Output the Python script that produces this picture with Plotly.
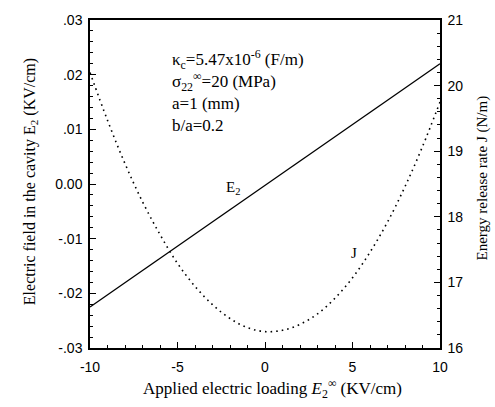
import plotly.graph_objects as go

# Data
x_E = [-10, 10]
E2 = [-0.0225, 0.0220]

x_J = [-10, -9, -8, -7, -6, -5, -4, -3, -2, -1, 0, 1, 2, 3, 4, 5, 6, 7, 8, 9, 10]
J = [20.20, 19.47, 18.81, 18.23, 17.73, 17.29, 16.94, 16.66, 16.45, 16.31, 16.25,
     16.27, 16.36, 16.52, 16.76, 17.07, 17.46, 17.92, 18.46, 19.07, 19.75]

x_ticks = [-10, -5, 0, 5, 10]
x_tick_text = ["-10", "-5", "0", "5", "10"]
y_ticks = [0.03, 0.02, 0.01, 0.0, -0.01, -0.02, -0.03]
y_tick_text = [".03", ".02", ".01", "0.00", "-.01", "-.02", "-.03"]
y2_ticks = [16, 17, 18, 19, 20, 21]

serif = "Liberation Serif"
sans = "Liberation Sans"

fig = go.Figure()
fig.add_trace(go.Scatter(x=x_E, y=E2, mode="lines",
                         line=dict(color="black", width=1.4), yaxis="y", showlegend=False))
fig.add_trace(go.Scatter(x=x_J, y=J, mode="lines", line_shape="spline",
                         line=dict(color="black", width=1.6, dash="1.6px,4px"),
                         yaxis="y2", showlegend=False))

fig.update_layout(
    width=495, height=407,
    margin=dict(l=90, r=55, t=13, b=59),
    paper_bgcolor="white", plot_bgcolor="white",
    xaxis=dict(range=[-10, 10], tickvals=x_ticks, ticktext=x_tick_text,
               ticks="inside", ticklen=6, ticklabelstandoff=5,
               tickwidth=1, tickcolor="black",
               minor=dict(dtick=1, ticks="inside", ticklen=3, tickcolor="black"),
               showline=True, linecolor="black", linewidth=1.5, mirror=True,
               showgrid=False, zeroline=False,
               tickfont=dict(family=sans, size=14, color="black")),
    yaxis=dict(range=[-0.03, 0.03], tickvals=y_ticks, ticktext=y_tick_text,
               ticks="inside", ticklen=6, tickcolor="black", ticklabelstandoff=3,
               minor=dict(dtick=0.002, ticks="inside", ticklen=3, tickcolor="black"),
               showline=True, linecolor="black", linewidth=1.5, mirror=True,
               showgrid=False, zeroline=False,
               tickfont=dict(family=sans, size=14, color="black")),
    yaxis2=dict(range=[16, 21], tickvals=y2_ticks, overlaying="y", side="right",
                ticks="inside", ticklen=6, tickcolor="black", ticklabelstandoff=3,
                minor=dict(dtick=0.2, ticks="inside", ticklen=3, tickcolor="black"),
                showline=True, linecolor="black", linewidth=1.5,
                showgrid=False, zeroline=False,
                tickfont=dict(family=sans, size=14, color="black")),
)

# axis titles
fig.add_annotation(x=0.52, y=-0.168, xref="paper", yref="paper", yanchor="bottom",
                   showarrow=False,
                   text="Applied electric loading <i>E</i><sub>2</sub><sup>∞</sup> (KV/cm)",
                   font=dict(family=serif, size=17, color="black"))
fig.add_annotation(x=-0.203, y=0.507, xref="paper", yref="paper", showarrow=False, textangle=-90,
                   text="Electric field in the cavity E<sub>2</sub> (KV/cm)",
                   font=dict(family=serif, size=16, color="black"))
fig.add_annotation(x=1.152, y=0.519, xref="paper", yref="paper", showarrow=False, textangle=-90,
                   text="Energy release rate J (N/m)",
                   font=dict(family=serif, size=15, color="black"))

# curve labels
fig.add_annotation(x=-1.83, y=-0.0008, xref="x", yref="y", text="E<sub>2</sub>",
                   showarrow=False, font=dict(family=serif, size=15, color="black"))
fig.add_annotation(x=5.1, y=17.45, xref="x", yref="y2", text="J",
                   showarrow=False, font=dict(family=serif, size=15, color="black"))

# parameter block
fig.add_annotation(x=0.228, y=0.925, xref="paper", yref="paper", xanchor="left", yanchor="top",
                   align="left", showarrow=False,
                   text=("κ<sub>c</sub>=5.47x10<sup>-6</sup> (F/m)<br>"
                         "σ<sub>22</sub><sup>∞</sup>=20 (MPa)<br>"
                         "a=1 (mm)<br>b/a=0.2"),
                   font=dict(family=serif, size=17, color="black"))

fig.write_html("out.html", config={"displayModeBar": False},
               post_script="document.body.style.margin='0px';document.body.style.overflow='hidden';")
